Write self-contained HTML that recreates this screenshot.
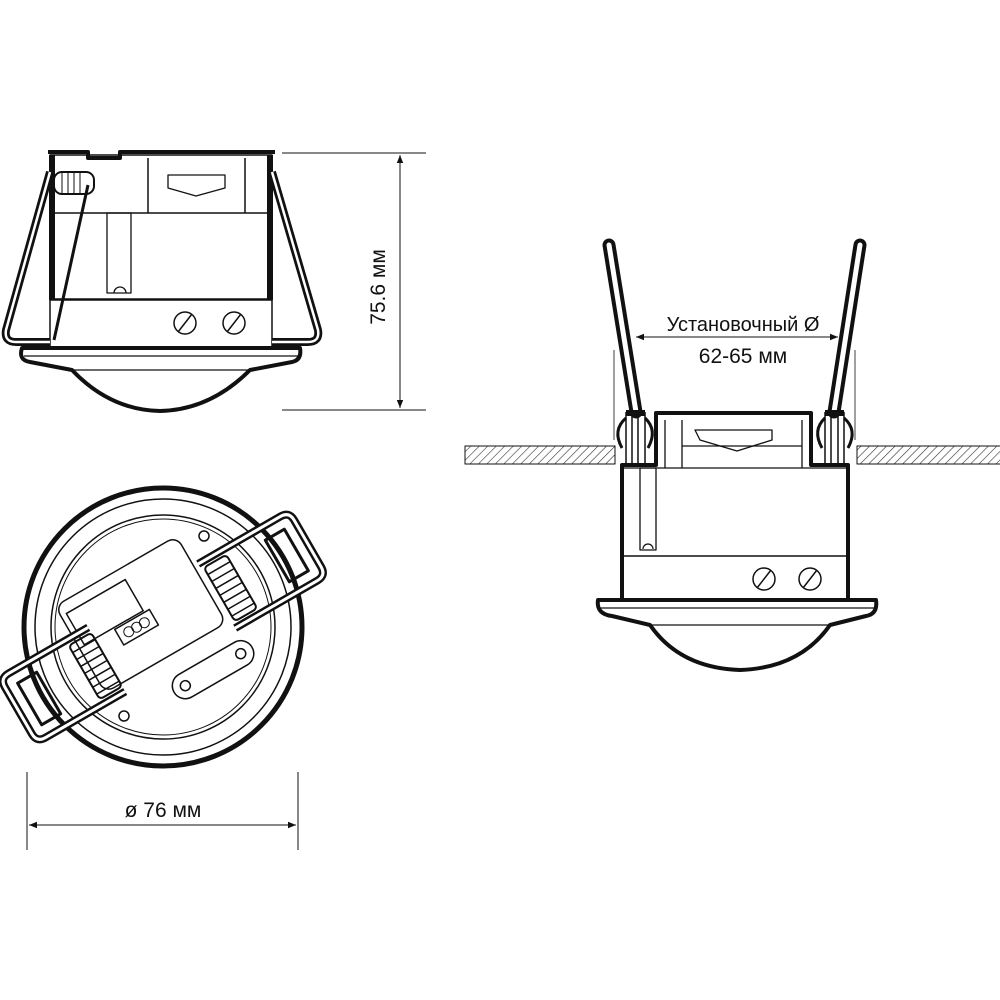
<!DOCTYPE html>
<html><head><meta charset="utf-8"><style>
html,body{margin:0;padding:0;background:#fff}
svg{display:block}
text{font-family:"Liberation Sans","DejaVu Sans",sans-serif;fill:#111}
</style></head><body>
<svg width="1000" height="1000" viewBox="0 0 1000 1000" xmlns="http://www.w3.org/2000/svg">
<defs>
<pattern id="h" width="6" height="6" patternUnits="userSpaceOnUse" patternTransform="rotate(45)">
<line x1="0" y1="0" x2="0" y2="6" stroke="#333" stroke-width="1.2"/></pattern>
<marker id="a" viewBox="0 0 10 10" refX="10" refY="5" markerWidth="8" markerHeight="8" orient="auto-start-reverse"><path d="M0,1 L10,5 L0,9 z" fill="#111"/></marker>
</defs>
<g fill="none" stroke="#111" stroke-linejoin="round">
<!-- ===== Top-left side view ===== -->
<path d="M48,152 H88 V158 H120 V152 H275" stroke-width="4"/>
<rect x="50" y="155" width="222" height="145" stroke-width="1.5"/>
<line x1="50" y1="213" x2="272" y2="213" stroke-width="1.5"/>
<line x1="148" y1="158" x2="148" y2="213" stroke-width="1.5"/>
<line x1="245" y1="158" x2="245" y2="213" stroke-width="1.5"/>
<path d="M168,175 H225 V188 L196,196 L168,188 Z" stroke-width="1.3"/>
<rect x="107" y="213" width="24" height="80" stroke-width="1.3"/>
<path d="M114,293 a6,6 0 0 1 12,0" stroke-width="1.3"/>
<rect x="50" y="299" width="222" height="50" stroke-width="1.5"/>
<line x1="52" y1="155" x2="52" y2="300" stroke-width="6"/>
<line x1="270" y1="155" x2="270" y2="300" stroke-width="6"/>
<circle cx="185" cy="323" r="11" stroke-width="1.5"/><line x1="178" y1="332" x2="192" y2="314" stroke-width="1.5"/>
<circle cx="234" cy="323" r="11" stroke-width="1.5"/><line x1="227" y1="332" x2="241" y2="314" stroke-width="1.5"/>
<!-- clips -->
<path d="M50,172 L6,330 Q4,342 16,342 H50" stroke-width="8"/>
<path d="M50,172 L6,330 Q4,342 16,342 H50" stroke="#fff" stroke-width="2.5"/>
<path d="M272,172 L318,330 Q320,342 308,342 H272" stroke-width="8"/>
<path d="M272,172 L318,330 Q320,342 308,342 H272" stroke="#fff" stroke-width="2.5"/>
<line x1="88" y1="185" x2="54" y2="340" stroke-width="3"/>
<rect x="54" y="172" width="40" height="22" rx="8" stroke-width="2"/>
<line x1="62" y1="173" x2="62" y2="193"/><line x1="68" y1="173" x2="68" y2="193"/><line x1="74" y1="173" x2="74" y2="193"/><line x1="80" y1="173" x2="80" y2="193"/>
<!-- flange + dome -->
<path d="M22,348 H300 Q302,360 292,362 L250,370 Q210,410 160,411 Q110,410 72,370 L30,362 Q18,360 22,348 Z" stroke-width="4"/>
<line x1="24" y1="356" x2="298" y2="356" stroke-width="1.2"/>
<line x1="72" y1="370" x2="250" y2="370" stroke-width="1.2"/>
<!-- dimension -->
<line x1="282" y1="153" x2="426" y2="153" stroke-width="1"/>
<line x1="282" y1="410" x2="426" y2="410" stroke-width="1"/>
<line x1="400" y1="155" x2="400" y2="408" stroke-width="1" marker-start="url(#a)" marker-end="url(#a)"/>

<!-- ===== Right view ===== -->
<rect x="465" y="446" width="150" height="18" fill="url(#h)" stroke-width="1"/>
<rect x="857" y="446" width="145" height="18" fill="url(#h)" stroke-width="1"/>
<path d="M622,600 V465 H656 V413 H811 V465 H848 V600" stroke-width="4"/>
<line x1="622" y1="468" x2="848" y2="468" stroke-width="1.3"/>
<line x1="665" y1="420" x2="665" y2="468" stroke-width="1.3"/>
<line x1="802" y1="420" x2="802" y2="468" stroke-width="1.3"/>
<line x1="682" y1="420" x2="682" y2="468" stroke-width="1.3"/>
<line x1="682" y1="446" x2="802" y2="446" stroke-width="1.3"/>
<path d="M695,430 H772 V440 L737,451 L700,440 Z" stroke-width="1.3"/>
<rect x="640" y="468" width="16" height="82" stroke-width="1.3"/>
<path d="M643,549 a5,5 0 0 1 10,0" stroke-width="1.2"/>
<line x1="622" y1="556" x2="848" y2="556" stroke-width="1.5"/>
<circle cx="764" cy="579" r="11" stroke-width="1.5"/><line x1="757" y1="588" x2="771" y2="570" stroke-width="1.5"/>
<circle cx="810" cy="579" r="11" stroke-width="1.5"/><line x1="803" y1="588" x2="817" y2="570" stroke-width="1.5"/>
<path d="M598,600 H876 Q878,614 866,616 L830,625 Q800,668 740,670 Q680,668 650,625 L612,616 Q596,614 598,600 Z" stroke-width="4"/>
<line x1="600" y1="608" x2="874" y2="608" stroke-width="1.2"/>
<line x1="650" y1="625" x2="830" y2="625" stroke-width="1.2"/>
<!-- arms -->
<path d="M609,245 L636,412" stroke-width="13" stroke-linecap="round"/>
<path d="M609,245 L636,412" stroke="#fff" stroke-width="5" stroke-linecap="round"/>
<path d="M860,245 L834,412" stroke-width="13" stroke-linecap="round"/>
<path d="M860,245 L834,412" stroke="#fff" stroke-width="5" stroke-linecap="round"/>
<path d="M626,412 V465 M645,412 V465 M632,412 V465 M638,412 V465" stroke-width="1.5"/>
<path d="M825,412 V465 M844,412 V465 M831,412 V465 M838,412 V465" stroke-width="1.5"/>
<rect x="626" y="410" width="19" height="6" fill="#111" stroke="none"/>
<rect x="825" y="410" width="19" height="6" fill="#111" stroke="none"/>
<path d="M626,418 Q612,430 622,448" stroke-width="3"/><path d="M645,418 Q658,430 648,448" stroke-width="3"/>
<path d="M825,418 Q812,430 822,448" stroke-width="3"/><path d="M844,418 Q858,430 848,448" stroke-width="3"/>
<line x1="614" y1="350" x2="614" y2="440" stroke-width="0.8"/>
<line x1="855" y1="350" x2="855" y2="440" stroke-width="0.8"/>
<line x1="636" y1="337" x2="838" y2="337" stroke-width="1" marker-start="url(#a)" marker-end="url(#a)"/>

<!-- ===== Bottom view ===== -->
<circle cx="163" cy="627" r="139" stroke-width="5"/>
<circle cx="163" cy="627" r="128" stroke-width="1.5"/>
<circle cx="163" cy="627" r="112" stroke-width="1.5"/>
<circle cx="163" cy="627" r="108" stroke-width="1"/>
<g transform="rotate(-30 163 627)">
<rect x="80" y="555" width="140" height="100" rx="10" stroke-width="1.5"/>
<rect x="86" y="567" width="68" height="36" stroke-width="1.5"/>
<rect x="120" y="605" width="40" height="18" stroke-width="1.5"/>
<circle cx="131" cy="614" r="5"/><circle cx="140" cy="614" r="5"/><circle cx="149" cy="614" r="5"/>
<rect x="140" y="676" width="90" height="26" rx="13" stroke-width="1.5"/>
<circle cx="153" cy="689" r="5" stroke-width="1.5"/><circle cx="217" cy="689" r="5" stroke-width="1.5"/>
<path d="M225,590 H320 Q330,590 330,600 V654 Q330,664 320,664 H225" stroke-width="8"/>
<path d="M225,590 H320 Q330,590 330,600 V654 Q330,664 320,664 H225" stroke="#fff" stroke-width="3"/>
<rect x="295" y="603" width="22" height="48" stroke-width="3"/>
<rect x="228" y="596" width="26" height="62" rx="4" stroke-width="2"/>
<path d="M228,604H254M228,612H254M228,620H254M228,628H254M228,636H254M228,644H254M228,652H254" stroke-width="1.5"/>
<path d="M98,590 H6 Q-4,590 -4,600 V654 Q-4,664 6,664 H98" stroke-width="8"/>
<path d="M98,590 H6 Q-4,590 -4,600 V654 Q-4,664 6,664 H98" stroke="#fff" stroke-width="3"/>
<rect x="9" y="603" width="22" height="48" stroke-width="3"/>
<rect x="72" y="596" width="26" height="62" rx="4" stroke-width="2"/>
<path d="M72,604H98M72,612H98M72,620H98M72,628H98M72,636H98M72,644H98M72,652H98" stroke-width="1.5"/>
</g>
<circle cx="204" cy="536" r="5" stroke-width="1.5"/>
<circle cx="124" cy="716" r="5" stroke-width="1.5"/>
<line x1="27" y1="772" x2="27" y2="850" stroke-width="1"/>
<line x1="298" y1="772" x2="298" y2="850" stroke-width="1"/>
<line x1="29" y1="825" x2="296" y2="825" stroke-width="1" marker-start="url(#a)" marker-end="url(#a)"/>
</g>
<text x="385" y="287" font-size="21" text-anchor="middle" transform="rotate(-90 385 287)">75.6 мм</text>
<text x="743" y="331" font-size="20" text-anchor="middle">Установочный Ø</text>
<text x="743" y="363" font-size="21" text-anchor="middle">62-65 мм</text>
<text x="163" y="817" font-size="21" text-anchor="middle">ø 76 мм</text>
</svg>
</body></html>
